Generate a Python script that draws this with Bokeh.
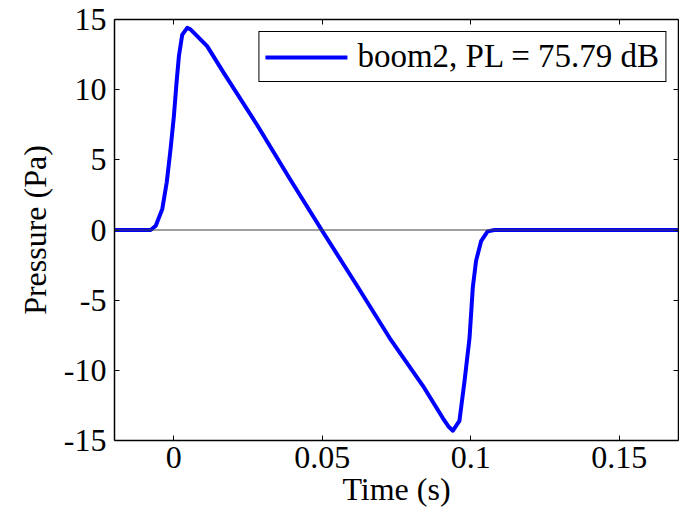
from bokeh.plotting import figure
from bokeh.models import (Range1d, LinearAxis, FixedTicker, NumeralTickFormatter,
                          Span, Legend, LegendItem, CustomLabelingPolicy)
from bokeh.embed import file_html
from bokeh.resources import INLINE

# ---- data ----
time_s = [-0.02, -0.0078, -0.0061, -0.0039, -0.0024, -0.0011, 0.0, 0.0009, 0.0017,
          0.0028, 0.0045, 0.0056, 0.0112, 0.0168, 0.028, 0.0392, 0.0498, 0.0615,
          0.0727, 0.0839, 0.0906, 0.0925, 0.094, 0.0962, 0.0979, 0.0996, 0.1007,
          0.1018, 0.1035, 0.1057, 0.108, 0.17]
pressure_pa = [0, 0, 0.3, 1.5, 3.4, 5.8, 8.1, 10.5, 12.4, 13.9, 14.4, 14.3, 13.1,
               11.2, 7.5, 3.6, 0, -3.9, -7.7, -11.1, -13.4, -14.0, -14.3, -13.6,
               -10.8, -7.7, -4.1, -2.2, -0.8, -0.1, 0, 0]
x_ticks = [0, 0.05, 0.1, 0.15]
y_ticks = [-15, -10, -5, 0, 5, 10, 15]
legend_label = "boom2, PL = 75.79 dB"
x_label = "Time (s)"
y_label = "Pressure (Pa)"

FONT = "Liberation Serif"

p = figure(width=679, height=520, output_backend="svg", toolbar_location=None,
           x_range=Range1d(-0.02, 0.17), y_range=Range1d(-15, 15),
           x_axis_location=None, y_axis_location=None,
           min_border_left=114, min_border_right=1, min_border_top=19,
           min_border_bottom=80)
p.grid.visible = False
p.outline_line_color = None
p.background_fill_color = "white"
p.border_fill_color = "white"

no_labels = CustomLabelingPolicy(code="""
try {
  for (const i of Array.from(indices)) { indices.unset(i) }
} catch (e) {}
return indices
""")


def style_axis(ax, ticks, fmt, show_labels):
    ax.ticker = FixedTicker(ticks=ticks)
    ax.formatter = NumeralTickFormatter(format=fmt)
    ax.axis_line_color = "black"
    ax.axis_line_width = 1.5
    ax.major_tick_line_color = "black"
    ax.major_tick_line_width = 1
    ax.major_tick_in = 5
    ax.major_tick_out = 0
    ax.minor_tick_line_color = None
    ax.major_label_text_font = FONT
    ax.major_label_text_color = "black"
    if show_labels:
        ax.major_label_text_font_size = "32px"
        ax.major_label_standoff = 6
    else:
        ax.major_label_policy = no_labels
        ax.major_label_text_font_size = "0px"
        ax.major_label_standoff = 0


xb = LinearAxis()
style_axis(xb, x_ticks, "0.[00]", True)
xb.axis_label = x_label
xb.axis_label_text_font = FONT
xb.axis_label_text_font_size = "32px"
xb.axis_label_text_font_style = "normal"
xb.axis_label_text_color = "black"
xb.axis_label_standoff = 0
p.add_layout(xb, "below")

xt = LinearAxis()
style_axis(xt, x_ticks, "0.[00]", False)
p.add_layout(xt, "above")

yl = LinearAxis()
style_axis(yl, y_ticks, "0", True)
yl.major_label_standoff = 8
yl.axis_label = y_label
yl.axis_label_text_font = FONT
yl.axis_label_text_font_size = "32px"
yl.axis_label_text_font_style = "normal"
yl.axis_label_text_color = "black"
yl.axis_label_standoff = 8
p.add_layout(yl, "left")

yr = LinearAxis()
style_axis(yr, y_ticks, "0", False)
p.add_layout(yr, "right")

zero = Span(location=0, dimension="width", line_color="#404040", line_width=1)
p.add_layout(zero)

r = p.line(time_s, pressure_pa, line_color="#0000FF", line_width=4,
           line_join="round", line_cap="round")

legend = Legend(items=[LegendItem(label=legend_label, renderers=[r])],
                location="top_right", margin=12, padding=6,
                glyph_width=82, glyph_height=20, label_standoff=10,
                label_text_font=FONT, label_text_font_size="33px",
                label_text_color="black",
                border_line_color="black", border_line_width=1,
                border_line_alpha=1,
                background_fill_color="white", background_fill_alpha=1)
p.add_layout(legend)

open("out.html", "w").write(file_html(p, INLINE))
